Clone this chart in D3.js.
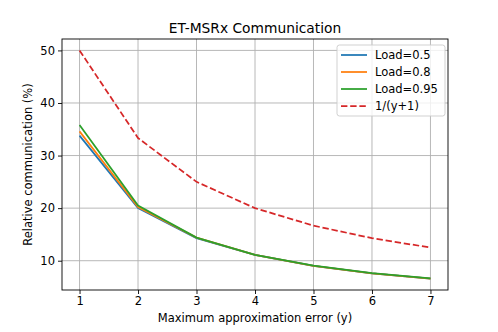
<!DOCTYPE html>
<html>
<head>
<meta charset="utf-8">
<script src="https://cdn.jsdelivr.net/npm/d3@7"></script>
<style>
  body { margin: 0; background: #fff; }
  svg { display: block; font-family: "DejaVu Sans", sans-serif; }
</style>
</head>
<body>
<svg id="chart" width="498" height="332"></svg>
<script>
const errors = [1, 2, 3, 4, 5, 6, 7];
const load05 = [33.8, 20.0, 14.3, 11.1, 9.0, 7.6, 6.6];
const load08 = [34.6, 20.2, 14.4, 11.1, 9.0, 7.6, 6.6];
const load095 = [35.8, 20.5, 14.4, 11.1, 9.05, 7.65, 6.65];
const bound = [50, 33.33, 25, 20, 16.67, 14.29, 12.5];
const xTicks = [1, 2, 3, 4, 5, 6, 7];
const yTicks = [10, 20, 30, 40, 50];

const series = [
  { name: 'Load=0.5', values: load05, color: '#1f77b4', dash: null },
  { name: 'Load=0.8', values: load08, color: '#ff7f0e', dash: null },
  { name: 'Load=0.95', values: load095, color: '#2ca02c', dash: null },
  { name: '1/(y+1)', values: bound, color: '#d62728', dash: '6.4,2.8' }
];

const svg = d3.select('#chart');
const margin = { top: 39, right: 50, bottom: 42, left: 62 };
const width = 498;
const height = 332;
const innerWidth = width - margin.left - margin.right;
const innerHeight = height - margin.top - margin.bottom;

const xScale = d3.scaleLinear().domain([0.7, 7.3]).range([0, innerWidth]);
const yScale = d3.scaleLinear().domain([4.43, 52.17]).range([innerHeight, 0]);

const plot = svg.append('g').attr('transform', `translate(${margin.left},${margin.top})`);

// grid
const grid = plot.append('g');
grid.selectAll('line.gx').data(xTicks).join('line')
  .attr('x1', d => xScale(d)).attr('x2', d => xScale(d))
  .attr('y1', 0).attr('y2', innerHeight)
  .attr('stroke', '#b0b0b0').attr('stroke-width', 0.9);
grid.selectAll('line.gy').data(yTicks).join('line')
  .attr('y1', d => yScale(d)).attr('y2', d => yScale(d))
  .attr('x1', 0).attr('x2', innerWidth)
  .attr('stroke', '#b0b0b0').attr('stroke-width', 0.9);

// lines
const line = d3.line()
  .x((d, i) => xScale(errors[i]))
  .y(d => yScale(d));
plot.append('g').selectAll('path').data(series).join('path')
  .attr('d', d => line(d.values))
  .attr('fill', 'none')
  .attr('stroke', d => d.color)
  .attr('stroke-width', 1.75)
  .attr('stroke-dasharray', d => d.dash);

// axes
const xAxis = d3.axisBottom(xScale).tickValues(xTicks).tickSize(4).tickPadding(3).tickFormat(d3.format('d'));
const yAxis = d3.axisLeft(yScale).tickValues(yTicks).tickSize(4).tickPadding(3);
const gx = plot.append('g').attr('transform', `translate(0,${innerHeight})`).call(xAxis);
const gy = plot.append('g').call(yAxis);
[gx, gy].forEach(g => {
  g.select('.domain').remove();
  g.selectAll('text').attr('font-size', 11.5).attr('fill', '#000').attr('font-family', '"DejaVu Sans", sans-serif');
  g.selectAll('line').attr('stroke', '#000').attr('stroke-width', 0.9);
});

// frame
plot.append('rect')
  .attr('width', innerWidth).attr('height', innerHeight)
  .attr('fill', 'none').attr('stroke', '#000').attr('stroke-width', 0.9);

// labels
svg.append('text')
  .attr('x', margin.left + innerWidth / 2).attr('y', 33)
  .attr('text-anchor', 'middle').attr('font-size', 13.8)
  .text('ET-MSRx Communication');
svg.append('text')
  .attr('x', margin.left + innerWidth / 2).attr('y', 322)
  .attr('text-anchor', 'middle').attr('font-size', 11.5)
  .text('Maximum approximation error (y)');
svg.append('text')
  .attr('transform', `translate(32,${margin.top + innerHeight / 2}) rotate(-90)`)
  .attr('text-anchor', 'middle').attr('font-size', 11.5)
  .text('Relative communication (%)');

// legend
const legend = svg.append('g').attr('transform', 'translate(337,45)');
legend.append('rect')
  .attr('width', 108).attr('height', 71).attr('rx', 2.5)
  .attr('fill', '#fff').attr('fill-opacity', 0.8)
  .attr('stroke', '#cccccc').attr('stroke-width', 0.9);
const items = legend.selectAll('g').data(series).join('g')
  .attr('transform', (d, i) => `translate(0,${10 + i * 17})`);
items.append('line')
  .attr('x1', 4).attr('x2', 30).attr('y1', 0).attr('y2', 0)
  .attr('stroke', d => d.color).attr('stroke-width', 1.75)
  .attr('stroke-dasharray', d => d.dash);
items.append('text')
  .attr('x', 38).attr('y', 4.2)
  .attr('font-size', 11.5)
  .text(d => d.name);
</script>
</body>
</html>
